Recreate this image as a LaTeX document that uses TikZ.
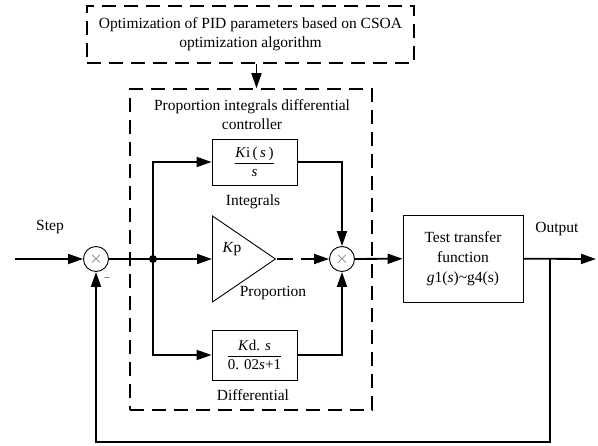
\documentclass[tikz,border=0pt]{standalone}
\usepackage{fontspec}
\setmainfont{Liberation Serif}
\usepackage{amsmath}
\usepackage{tikz}
\usetikzlibrary{arrows.meta,positioning,shapes.geometric,calc}
\tikzset{
  blockbox/.style={
    rectangle, draw=black, line width=0.9pt,
    minimum width=85pt, minimum height=#1,
    inner sep=2pt, align=center,
    font=\fontsize{15}{17}\selectfont
  },
  blockbox/.default=46pt,
  dashbox/.style={rectangle, draw=black, line width=1.6pt,
    dash pattern=on 14pt off 8pt, align=center},
  sumnode/.style={circle, draw=black, line width=0.9pt,
    minimum size=25pt, inner sep=0pt,
    font=\fontsize{18}{18}\selectfont, text=black!60},
  ampnode/.style={isosceles triangle, isosceles triangle stretches,
    draw=black, line width=0.9pt, inner sep=0pt,
    minimum width=86pt, minimum height=63pt},
  sigline/.style={line width=1.8pt},
  sigarrow/.style={line width=1.8pt, -{Triangle[length=15pt,width=10pt]}},
  lbl/.style={font=\fontsize{15.5}{19}\selectfont, align=center},
}

\begin{document}
\begin{tikzpicture}[x=1pt, y=-1pt]
  \useasboundingbox (0,0) rectangle (598,446);
  % outer tuning block and controller frame
  \node[dashbox, lbl, minimum width=327pt, minimum height=57pt] (optbox) at (250.5,34.5)
    {Optimization of PID parameters based on CSOA\\optimization algorithm};
  \node[dashbox, minimum width=242pt, minimum height=321pt] (pidbox) at (251,249.5) {};
  \node[lbl] (pidtitle) at (252,114.5) {Proportion integrals differential\\controller};
  % summing points
  \node[sumnode] (sum1) at (96,259) {$\times$};
  \node[sumnode] (sum2) at (342,259) {$\times$};
  \coordinate (branch) at (153,259);
  % I, P, D paths
  \node[blockbox] (kibox) at (254.5,162)
    {$\dfrac{\textnormal{\textit{K}i\,(\,\textit{s}\,)}}{\textnormal{\textit{s}}}$};
  \node[ampnode, anchor=west] (kpamp) at (212,259) {};
  \node[blockbox=50pt] (kdbox) at (254.5,355)
    {$\dfrac{\textnormal{\textit{K}d. \textit{s}}}{\textnormal{0. 02\textit{s}+1}}$};
  \node[lbl] (kplbl) at (232,249) {\textit{K}p};
  \node[lbl] (ilbl) at (253,202) {Integrals};
  \node[lbl] (plbl) at (273,293) {Proportion};
  \node[lbl] (dlbl) at (253,395) {Differential};
  % plant
  \node[blockbox=87pt, minimum width=120pt, font=\fontsize{15.5}{20}\selectfont] (testbox) at (463,258.5)
    {Test transfer\\function\\\textit{g}1(\textit{s})\textasciitilde g4(s)};
  \node[lbl] (steplbl) at (50,227) {Step};
  \node[lbl] (outlbl) at (557,229) {Output};
  \node[font=\fontsize{10}{10}\selectfont] (minus) at (107,279) {--};
  \coordinate (stepin) at (15,259);
  \coordinate (outend) at (596,259);
  \coordinate (tap) at (550,259);
  \coordinate (fb) at (550,442);

  \draw[sigarrow] ([xshift=6pt]optbox.south) -- ([xshift=6pt]optbox.south |- pidbox.north);
  \draw[sigarrow] (stepin) -- (sum1);
  \draw[sigline] (sum1) -- (branch);
  \draw[sigarrow] (branch) -- (kpamp.west);
  \draw[sigarrow] (branch) |- (kibox);
  \draw[sigarrow] (branch) |- (kdbox);
  \draw[sigarrow] (kibox) -| (sum2);
  \draw[sigarrow] (kdbox) -| (sum2);
  \draw[sigarrow, dash pattern=on 16pt off 8pt] (kpamp.apex) -- (sum2);
  \draw[sigarrow] (sum2) -- (testbox);
  \draw[sigarrow] (testbox) -- (outend);
  \draw[sigarrow] (tap) -- (fb) -| (sum1);
  \fill (branch) circle (4pt);
\end{tikzpicture}
\end{document}
